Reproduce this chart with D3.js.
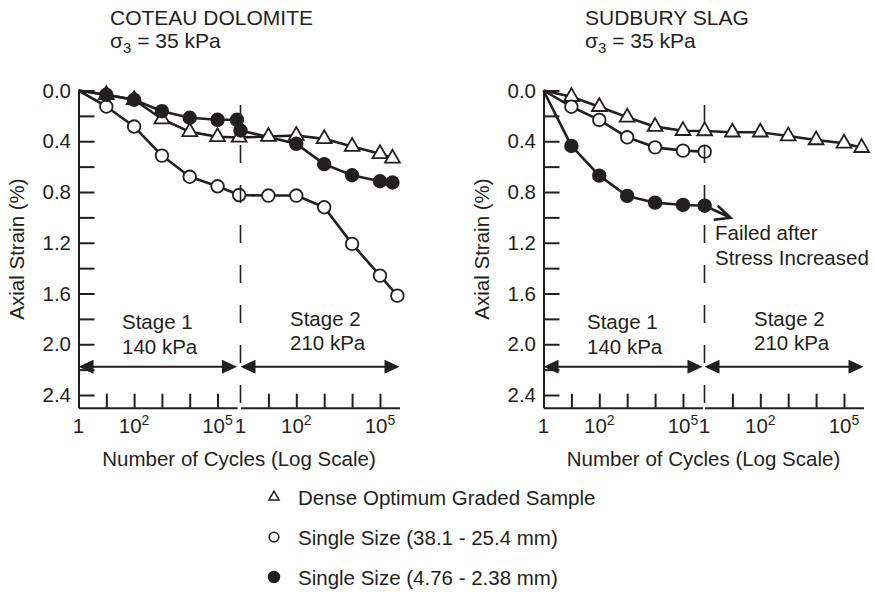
<!DOCTYPE html>
<html>
<head>
<meta charset="utf-8">
<script src="https://cdn.jsdelivr.net/npm/d3@7.9.0/dist/d3.min.js"></script>
<style>
  body { margin: 0; background: #fff; }
  svg text { font-family: "Liberation Sans", Arial, sans-serif; fill: #231f20; }
</style>
</head>
<body>
<svg id="chart" width="875" height="609"></svg>
<script>
// cycle counts where readings were taken (stage 1 ends at the load change)
const stage1Cycles = [1, 10, 1e2, 1e3, 1e4, 1e5, 6e5];

// Coteau Dolomite, axial strain (%)
const cdDenseS1 = [0, 0.034, 0.073, 0.225, 0.326, 0.365, 0.37];
const cdDenseS2Cycles = [10, 1e2, 1e3, 1e4, 1e5, 2.8e5];
const cdDenseS2 = [0.363, 0.355, 0.381, 0.442, 0.499, 0.534];
const cdCoarseS1 = [0, 0.126, 0.284, 0.513, 0.68, 0.755, 0.824];
const cdCoarseS2Cycles = [10, 1e2, 1e3, 1e4, 1e5, 4.2e5];
const cdCoarseS2 = [0.828, 0.828, 0.92, 1.209, 1.459, 1.617];
const cdFineS1 = [0, 0.034, 0.073, 0.163, 0.215, 0.231, 0.231];
const cdFineS2Cycles = [1, 1e2, 1e3, 1e4, 1e5, 2.8e5];
const cdFineS2 = [0.315, 0.42, 0.58, 0.668, 0.715, 0.725];

// Sudbury Slag, axial strain (%)
const ssDenseS1 = [0, 0.049, 0.128, 0.211, 0.285, 0.317, 0.319];
const ssDenseS2Cycles = [10, 1e2, 1e3, 1e4, 1e5, 4.3e5];
const ssDenseS2 = [0.329, 0.329, 0.359, 0.39, 0.416, 0.451];
const ssCoarseS1 = [0, 0.128, 0.232, 0.369, 0.448, 0.474, 0.482];
const ssFineS1 = [0, 0.437, 0.671, 0.831, 0.884, 0.902, 0.908];

const strainTicks = d3.range(13).map(i => i * 0.2);
const decadeTicks = [10, 1e2, 1e3, 1e4, 1e5];
const labelTicks = [1, 1e2, 1e5];
const stageNames = ['Stage 1', 'Stage 2'];
const stageLoads = ['140 kPa', '210 kPa'];
const legendLabels = ['Dense Optimum Graded Sample', 'Single Size (38.1 - 25.4 mm)', 'Single Size (4.76 - 2.38 mm)'];

const ink = '#231f20';
const svg = d3.select('#chart');
const y = d3.scaleLinear().domain([0, 2.5]).range([90.5, 407.7]);
const stageEnd = Math.pow(10, 5.7);

function pts(cycles, vals, stage) {
  return cycles.map((c, i) => ({ n: c, v: vals[i], stage: stage, mark: !(stage === 0 && c === 1) }));
}

function drawPanel(p) {
  const g = svg.append('g');
  const xs = [
    d3.scaleLog().domain([1, stageEnd]).range(p.x1),
    d3.scaleLog().domain([1, stageEnd]).range(p.x2)
  ];
  const px = d => xs[d.stage](d.n);

  // titles
  g.append('text').attr('x', p.titleX).attr('y', 25).attr('font-size', 21).text(p.title);
  const sig = g.append('text').attr('x', p.titleX).attr('y', 48).attr('font-size', 21);
  sig.append('tspan').text('σ');
  sig.append('tspan').attr('font-size', 15).attr('dy', 5).text('3');
  sig.append('tspan').attr('dy', -5).text(' = 35 kPa');

  // y axis
  const ya = g.append('g')
    .attr('transform', `translate(${p.x1[0]},0)`)
    .call(d3.axisLeft(y).tickValues(strainTicks).tickSize(-16).tickSizeOuter(0).tickPadding(7.5)
      .tickFormat((d, i) => i % 2 ? '' : d.toFixed(1)));
  ya.selectAll('path, line').attr('stroke', ink).attr('stroke-width', 2);
  ya.selectAll('text').attr('font-size', 20.5).attr('font-family', null).attr('fill', ink);

  g.append('text')
    .attr('transform', `translate(${p.yTitleX},249) rotate(-90)`)
    .attr('text-anchor', 'middle').attr('font-size', 20.5)
    .text('Axial Strain (%)');

  // x axes, one per stage
  xs.forEach((x, s) => {
    const xa = g.append('g')
      .attr('transform', `translate(0,${y(2.5)})`)
      .call(d3.axisBottom(x).tickValues(decadeTicks).tickSize(-14).tickSizeOuter(0).tickFormat(''));
    xa.selectAll('path, line').attr('stroke', ink).attr('stroke-width', 2);

    labelTicks.forEach(t => {
      const lab = g.append('text').attr('x', x(t)).attr('y', 433)
        .attr('text-anchor', 'middle').attr('font-size', 20.5);
      if (t === 1) lab.text('1');
      else {
        lab.append('tspan').text('10');
        lab.append('tspan').attr('font-size', 14).attr('dy', -8).text(Math.log10(t));
      }
    });

    // stage span arrows
    const [a, b] = x.range();
    const ay = 366.7;
    g.append('line').attr('x1', a + 4).attr('x2', b - 4).attr('y1', ay).attr('y2', ay)
      .attr('stroke', ink).attr('stroke-width', 2);
    g.append('path').attr('d', `M${a},${ay}L${a + 15},${ay - 7}L${a + 15},${ay + 7}Z`).attr('fill', ink);
    g.append('path').attr('d', `M${b},${ay}L${b - 15},${ay - 7}L${b - 15},${ay + 7}Z`).attr('fill', ink);

    const off = s === 0 ? 43.5 : 49.5;
    const base = s === 0 ? [329, 354] : [325.5, 350];
    g.append('text').attr('x', a + off).attr('y', base[0]).attr('font-size', 20.5).text(stageNames[s]);
    g.append('text').attr('x', a + off).attr('y', base[1]).attr('font-size', 20.5).text(stageLoads[s]);
  });

  g.append('text')
    .attr('x', (p.x1[0] + p.x2[1]) / 2).attr('y', 466)
    .attr('text-anchor', 'middle').attr('font-size', 20.5)
    .text('Number of Cycles (Log Scale)');

  // series lines
  const line = d3.line().x(px).y(d => y(d.v));
  p.series.forEach(sr => {
    g.append('path').datum(sr.data).attr('d', line)
      .attr('fill', 'none').attr('stroke', ink).attr('stroke-width', 2.6)
      .attr('stroke-linejoin', 'round');
  });

  // markers: triangles, then open, then filled
  const tri = d3.symbol().type(d3.symbolTriangle).size(95);
  ['tri', 'open', 'fill'].forEach(kind => {
    p.series.filter(sr => sr.kind === kind).forEach(sr => {
      const m = sr.data.filter(d => d.mark);
      if (kind === 'tri') {
        g.selectAll(null).data(m).join('path')
          .attr('d', tri)
          .attr('transform', d => `translate(${px(d)},${y(d.v)})`)
          .attr('fill', '#fff').attr('stroke', ink).attr('stroke-width', 1.8);
      } else {
        g.selectAll(null).data(m).join('circle')
          .attr('cx', px).attr('cy', d => y(d.v)).attr('r', 6.3)
          .attr('fill', kind === 'fill' ? ink : '#fff')
          .attr('stroke', ink).attr('stroke-width', 1.8);
      }
    });
  });

  // stage change line
  g.append('line')
    .attr('x1', xs[1](1)).attr('x2', xs[1](1)).attr('y1', 105).attr('y2', y(2.5))
    .attr('stroke', ink).attr('stroke-width', 1.6).attr('stroke-dasharray', '18,22');

  return { xs, px };
}

drawPanel({
  title: 'COTEAU DOLOMITE', titleX: 110, yTitleX: 24,
  x1: [78.5, 237], x2: [240.5, 399.5],
  series: [
    { kind: 'tri', data: pts(stage1Cycles, cdDenseS1, 0).concat(pts(cdDenseS2Cycles, cdDenseS2, 1)) },
    { kind: 'open', data: pts(stage1Cycles, cdCoarseS1, 0).concat(pts(cdCoarseS2Cycles, cdCoarseS2, 1)) },
    { kind: 'fill', data: pts(stage1Cycles.slice(0, 6).concat([5e5]), cdFineS1, 0).concat(pts(cdFineS2Cycles, cdFineS2, 1)) }
  ]
});

const right = drawPanel({
  title: 'SUDBURY SLAG', titleX: 585, yTitleX: 489,
  x1: [543.5, 702.5], x2: [704.5, 863.5],
  series: [
    { kind: 'tri', data: pts(stage1Cycles, ssDenseS1, 0).concat(pts(ssDenseS2Cycles, ssDenseS2, 1)) },
    { kind: 'open', data: pts(stage1Cycles, ssCoarseS1, 0) },
    { kind: 'fill', data: pts(stage1Cycles, ssFineS1, 0) }
  ]
});

// failure arrow after the last Sudbury fine reading
const fx = right.xs[0](stage1Cycles[6]);
const fy = y(ssFineS1[6]);
const tx = fx + 26, ty = fy + 12;
svg.append('path')
  .attr('d', `M${fx},${fy}L${tx},${ty}M${tx - 13},${ty - 12}L${tx},${ty}L${tx - 17},${ty + 2}`)
  .attr('fill', 'none').attr('stroke', ink).attr('stroke-width', 2.6).attr('stroke-linejoin', 'miter');
svg.append('text').attr('x', 715).attr('y', 240).attr('font-size', 20.5).text('Failed after');
svg.append('text').attr('x', 715).attr('y', 265).attr('font-size', 20.5).text('Stress Increased');

// legend
const legendY = d3.scalePoint().domain(legendLabels).range([497, 577]);
legendLabels.forEach((lab, i) => {
  const cy = legendY(lab);
  if (i === 0) {
    svg.append('path').attr('d', d3.symbol().type(d3.symbolTriangle).size(45)())
      .attr('transform', `translate(274,${cy})`)
      .attr('fill', '#fff').attr('stroke', ink).attr('stroke-width', 1.5);
  } else {
    svg.append('circle').attr('cx', 274).attr('cy', cy).attr('r', i === 1 ? 4.8 : 5.5)
      .attr('fill', i === 1 ? '#fff' : ink).attr('stroke', ink).attr('stroke-width', 1.5);
  }
  svg.append('text').attr('x', 298).attr('y', cy + 7.5).attr('font-size', 20.5).text(lab);
});
</script>
</body>
</html>
